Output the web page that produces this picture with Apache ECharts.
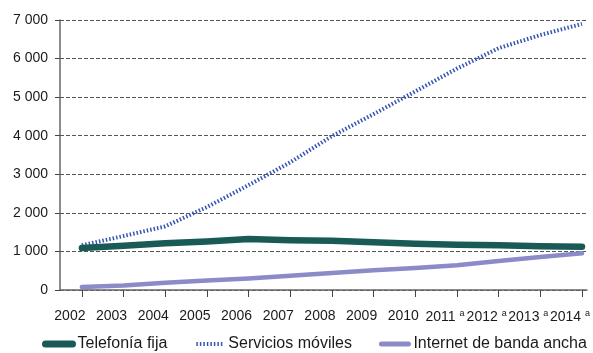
<!DOCTYPE html>
<html><head><meta charset="utf-8">
<script src="https://cdn.jsdelivr.net/npm/echarts@6/dist/echarts.min.js"></script>
<style>html,body{margin:0;padding:0;background:#fff}#c{width:593px;height:353px}</style>
</head><body><div id="c"></div>
<script>
const years = [2002,2003,2004,2005,2006,2007,2008,2009,2010,2011,2012,2013,2014];
const yearLabels = ['2002','2003','2004','2005','2006','2007','2008','2009','2010','2011','2012','2013','2014'];
const yearNotes = ['','','','','','','','','','a','a','a','a'];
const seriesNames = ['Telefonía fija','Servicios móviles','Internet de banda ancha'];
const fija = [1090,1150,1210,1260,1320,1290,1275,1235,1200,1170,1160,1135,1120];
const moviles = [1160,1400,1650,2150,2720,3310,3990,4560,5150,5740,6270,6610,6900];
const internet = [80,115,185,245,300,370,440,510,570,640,750,855,950];
const yTicks = [0,1000,2000,3000,4000,5000,6000,7000];

const FONT = '"Liberation Sans", Arial, sans-serif';
const COLORS = ['#195a56','#3555b0','#8b8bc8'];
const pair = arr => years.map((y,i)=>[y,arr[i]]);
const chart = echarts.init(document.getElementById('c'), null, {renderer:'canvas'});
chart.setOption({
  animation:false,
  backgroundColor:'#fff',
  textStyle:{fontFamily:FONT},
  grid:{left:60,right:3,top:20,bottom:63,containLabel:false},
  xAxis:{
    type:'value', min:2001.475, max:2014.12,
    splitLine:{show:false},
    axisLine:{show:true,lineStyle:{color:'#666',width:1.5}},
    axisTick:{show:true,length:7,inside:false,customValues:years,lineStyle:{color:'#444',width:1}},
    axisLabel:{
      customValues:years, margin:19, color:'#1a1a1a', fontSize:14, fontFamily:FONT,
      padding:[0,24,0,0],
      formatter:v=>{const i=years.indexOf(v);return yearLabels[i]+(yearNotes[i]?' {s|'+yearNotes[i]+'}':'');},
      rich:{s:{fontSize:9,color:'#1a1a1a',fontFamily:FONT,padding:[0,0,7,0]}}
    }
  },
  yAxis:{
    type:'value', min:0, max:7000, interval:1000,
    axisLine:{show:true,lineStyle:{color:'#666',width:1.5}},
    axisTick:{show:true,length:5,lineStyle:{color:'#444',width:1}},
    axisLabel:{margin:12,color:'#1a1a1a',fontSize:14,fontFamily:FONT,
      formatter:v=>yTicks.includes(v)?(v>=1000?Math.floor(v/1000)+' '+String(v%1000).padStart(3,'0'):String(v)):''},
    splitLine:{show:true,lineStyle:{color:'#555',width:1.2,type:[4,2]}}
  },
  legend:{
    left:42, top:336, itemWidth:27, itemHeight:12, itemGap:27, padding:0,
    itemStyle:{opacity:0},
    textStyle:{fontSize:16,color:'#1a1a1a',fontFamily:FONT},
    data:[
      {name:seriesNames[0],lineStyle:{width:7,color:COLORS[0],cap:'round'}},
      {name:seriesNames[1],lineStyle:{width:4,color:COLORS[1],type:[1.5,2]}},
      {name:seriesNames[2],lineStyle:{width:5,color:COLORS[2],cap:'round'}}
    ]
  },
  series:[
    {name:seriesNames[0],type:'line',data:pair(fija),showSymbol:false,symbol:'none',z:3,
      lineStyle:{color:COLORS[0],width:6.5,cap:'round',join:'round'},itemStyle:{color:COLORS[0]}},
    {name:seriesNames[1],type:'line',data:pair(moviles),showSymbol:false,symbol:'none',z:2,
      lineStyle:{color:COLORS[1],width:4,type:[1.5,2]},itemStyle:{color:COLORS[1]}},
    {name:seriesNames[2],type:'line',data:pair(internet),showSymbol:false,symbol:'none',z:2,
      lineStyle:{color:COLORS[2],width:4.5,cap:'round',join:'round'},itemStyle:{color:COLORS[2]}}
  ]
});
</script></body></html>
